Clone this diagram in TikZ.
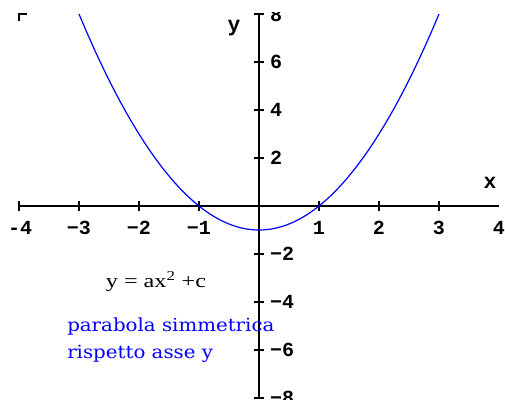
\documentclass[tikz,border=0pt]{standalone}
\usepackage{fontspec}
\setmainfont{Liberation Serif}
\newfontfamily\tickfont{Liberation Mono}
\newfontfamily\notefont[FakeStretch=1.1]{DejaVu Serif}
\newfontfamily\eqfont[FakeStretch=1.25]{Liberation Serif}
\usetikzlibrary{positioning}
\definecolor{curveblue}{RGB}{0,0,255}

\begin{document}
\begin{tikzpicture}[x=45pt, y=18pt,
  axisline/.style={black, line width=1.1pt},
  ticklbl/.style={font=\tickfont\bfseries\fontsize{15}{15}\selectfont, inner sep=0pt},
  axislbl/.style={font=\tickfont\bfseries\fontsize{16}{16}\selectfont, inner sep=0pt},
  curve/.style={curveblue, line width=0.9pt},
  eqlbl/.style={font=\eqfont\fontsize{14.5}{15}\selectfont, inner sep=0pt},
  note/.style={font=\notefont\fontsize{13.5}{20}\selectfont, text=curveblue, align=left, inner sep=0pt}]
\useasboundingbox (-4.3167,-8.0833) rectangle (4.1,8.5833);
\clip (-4.3167,-8.0833) rectangle (4.1,8.083);
% axes
\coordinate (xl) at (-4,0);
\coordinate (xr) at (4,0);
\coordinate (yb) at (0,-8);
\coordinate (yt) at (0,8);
\coordinate (corner) at (-4,8);
\draw[axisline] (xl) -- (xr);
\draw[axisline] (yb) -- (yt);
\draw[line width=1.4pt] ([yshift=-5pt]corner) -- (corner) -- ([xshift=6pt]corner);
% ticks
\foreach \i in {-4,-3,-2,-1,1,2,3}
  \draw[axisline] (\i,0) ++(0,-3.5pt) -- ++(0,7pt);
\foreach \j in {-8,-6,-4,-2,2,4,6,8}
  \draw[axisline] (0,\j) ++(-3.5pt,0) -- ++(7pt,0);
% tick labels
\node[ticklbl] (xlab-4) at (-3.98,-0.92) {-4};
\foreach \i/\t in {-3/−3,-2/−2,-1/−1,1/1,2/2,3/3,4/4}
  \node[ticklbl] (xlab\i) at (\i,-0.92) {\t};
\foreach \j/\t in {-8/−8,-6/−6,-4/−4,-2/−2,2/2,4/4,6/6}
  \node[ticklbl, anchor=west] (ylab\j) at (0.18,\j) {\t};
\node[ticklbl, anchor=west] (ylab8) at (0.18,7.95) {8};
\node[axislbl] (xname) at (3.85,0.96) {x};
\node[axislbl] (yname) at (-0.417,7.42) {y};
% parabola
\draw[curve] plot[domain=-3:3, samples=80, smooth] (\x,{\x*\x-1});
\node[eqlbl] (eq) at (-1.717,-3.17) {y = ax\textsuperscript{2} +c};
\node[note, anchor=north west] (note) at (-3.2,-4.65) {parabola simmetrica\\rispetto asse y};
\end{tikzpicture}
\end{document}
